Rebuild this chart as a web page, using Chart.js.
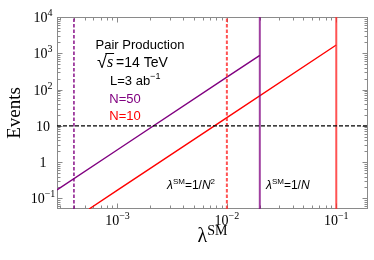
<!DOCTYPE html>
<html><head><meta charset="utf-8">
<script src="https://cdn.jsdelivr.net/npm/chart.js@4"></script>
<style>html,body{margin:0;padding:0;background:#fff}#wrap{width:374px;height:260px;position:relative}</style>
</head><body><div id="wrap"><canvas id="c"></canvas></div>
<script>
// ---- data ----
const lambdaN50 = [2.8e-4, 1e-3, 1e-2, 0.02];
const eventsN50 = [0.172, 2.19, 219, 876];
const lambdaN10 = [5.5e-4, 1e-3, 1e-2, 0.1];
const eventsN10 = [0.051, 0.169, 16.9, 1690];
const limitN50sq = 4e-4;   // 1/N^2, N=50
const limitN10sq = 0.01;   // 1/N^2, N=10
const limitN50 = 0.02;     // 1/N, N=50
const limitN10 = 0.1;      // 1/N, N=10
const eventThreshold = 10;
const xRange = [2.8e-4, 0.195];
const yRange = [0.051, 1e4];
const xTickValues = [1e-3, 1e-2, 1e-1];
const xTickLabels = [["10","\u22123"],["10","\u22122"],["10","\u22121"]];
const yTickValues = [0.1, 1, 10, 100, 1000, 10000];
const yTickLabels = [["10","\u22121"],["1",""],["10",""],["10","2"],["10","3"],["10","4"]];

const PURPLE = '#800080', RED = '#ff0000';
const pts = (xs, ys) => xs.map((v,i)=>({x:v,y:ys[i]}));
const vline = v => [{x:v,y:yRange[0]},{x:v,y:yRange[1]}];
const hline = v => [{x:xRange[0],y:v},{x:xRange[1],y:v}];

const SERIF = '"Liberation Serif", "Times New Roman", serif';
const SANS = '"Liberation Sans", Arial, sans-serif';

function supText(ctx, base, sup, x, y, baseFont, supFont, raise) {
  ctx.font = baseFont; ctx.fillText(base, x, y);
  const bw = ctx.measureText(base).width;
  let sw = 0;
  if (sup) { ctx.font = supFont; ctx.fillText(sup, x + bw, y - raise); sw = ctx.measureText(sup).width; }
  return bw + sw;
}
function supWidth(ctx, base, sup, baseFont, supFont) {
  ctx.font = baseFont; let w = ctx.measureText(base).width;
  if (sup) { ctx.font = supFont; w += ctx.measureText(sup).width; }
  return w;
}

const framePlugin = {
  id: 'frame',
  beforeDatasetsDraw(chart) {
    const {ctx, chartArea: a, scales: {x, y}} = chart;
    ctx.save();
    ctx.strokeStyle = '#8a8a8a'; ctx.lineWidth = 1;
    const L = Math.round(a.left)+0.5, R = Math.round(a.right)-0.5, T = Math.round(a.top)+0.5, B = Math.round(a.bottom)-0.5;
    ctx.strokeRect(L, T, R-L, B-T);
    ctx.beginPath();
    for (let d = -4; d <= 0; d++) for (let k = 1; k <= 9; k++) {
      const v = k*Math.pow(10,d); if (v < xRange[0] || v > xRange[1]) continue;
      const px = Math.round(x.getPixelForValue(v))+0.5, len = k===1?5:3;
      ctx.moveTo(px, B); ctx.lineTo(px, B-len); ctx.moveTo(px, T); ctx.lineTo(px, T+len);
    }
    for (let d = -2; d <= 4; d++) for (let k = 1; k <= 9; k++) {
      const v = k*Math.pow(10,d); if (v < yRange[0] || v > yRange[1]*1.0001) continue;
      const py = Math.round(y.getPixelForValue(v))+0.5, len = k===1?5:3;
      ctx.moveTo(L, py); ctx.lineTo(L+len, py); ctx.moveTo(R, py); ctx.lineTo(R-len, py);
    }
    ctx.stroke();
    ctx.restore();
  },
  afterDraw(chart) {
    const {ctx, chartArea: a, scales: {x, y}} = chart;
    ctx.save();
    ctx.fillStyle = '#000'; ctx.textBaseline = 'alphabetic'; ctx.textAlign = 'left';
    const bf = '14px ' + SERIF, sf = '10px ' + SERIF;
    xTickValues.forEach((v,i) => {
      const px = x.getPixelForValue(v);
      const [b,s] = xTickLabels[i];
      const w = supWidth(ctx, b, s, bf, sf);
      supText(ctx, b, s, px - w/2, a.bottom + 16, bf, sf, 6);
    });
    yTickValues.forEach((v,i) => {
      const py = y.getPixelForValue(v);
      const [b,s] = yTickLabels[i];
      const w = supWidth(ctx, b, s, bf, sf);
      supText(ctx, b, s, 43 - w/2, py + 5, bf, sf, 6);
    });
    // axis titles
    ctx.save();
    ctx.translate(15, (a.top+a.bottom)/2);
    ctx.rotate(-Math.PI/2);
    ctx.font = '19px ' + SERIF; ctx.textAlign = 'center'; ctx.textBaseline = 'middle';
    ctx.fillText('Events', 0, 0);
    ctx.restore();
    {
      const lf = '20px ' + SERIF, smf = '14px ' + SERIF;
      const w = supWidth(ctx, '\u03bb', 'SM', lf, smf);
      supText(ctx, '\u03bb', 'SM', (a.left+a.right)/2 - w/2, 242, lf, smf, 7);
    }
    // annotation labels
    function lamLabel(x0, y0, sq) {
      let cx = x0;
      ctx.font = 'italic 12px ' + SANS; ctx.fillText('\u03bb', cx, y0); cx += ctx.measureText('\u03bb').width;
      ctx.font = '8px ' + SANS; ctx.fillText('SM', cx, y0-5); cx += ctx.measureText('SM').width;
      ctx.font = '12px ' + SANS; ctx.fillText('=1/', cx, y0); cx += ctx.measureText('=1/').width;
      ctx.font = 'italic 12px ' + SANS; ctx.fillText('N', cx, y0); cx += ctx.measureText('N').width;
      if (sq) { ctx.font = '8px ' + SANS; ctx.fillText('2', cx, y0-5); }
    }
    lamLabel(167, 189, true);
    lamLabel(266, 189, false);
    // info block
    const f13 = '13px ' + SANS;
    ctx.font = f13; ctx.textAlign = 'center';
    ctx.fillText('Pair Production', 140, 49);
    ctx.textAlign = 'left';
    {
      let cx = 97; const by = 67;
      ctx.font = '18px ' + SANS; ctx.fillText('\u221a', cx, by+1); cx += ctx.measureText('\u221a').width - 1;
      ctx.font = 'italic 16px ' + SERIF; const sw = ctx.measureText('s').width; ctx.fillText('s', cx + 1, by);
      ctx.strokeStyle = '#000'; ctx.lineWidth = 1;
      ctx.beginPath(); ctx.moveTo(cx-0.5, by-13.5); ctx.lineTo(cx+sw+2, by-13.5); ctx.stroke();
      cx += sw + 4;
      ctx.font = '14px ' + SANS; ctx.fillText('=14 TeV', cx, by);
    }
    {
      let cx = 110; const by = 85;
      ctx.font = f13; ctx.fillText('L=3 ab', cx, by); cx += ctx.measureText('L=3 ab').width;
      ctx.font = '9px ' + SANS; ctx.fillText('\u22121', cx, by-6);
    }
    ctx.textAlign = 'center';
    ctx.font = f13;
    ctx.fillStyle = PURPLE; ctx.fillText('N=50', 125, 103);
    ctx.fillStyle = RED; ctx.fillText('N=10', 125, 120);
    ctx.restore();
  }
};

const ds = (data, color, width, dash) => ({data, borderColor: color, borderWidth: width, borderDash: dash || [], pointRadius: 0, fill: false, tension: 0});

new Chart(document.getElementById('c'), {
  type: 'scatter',
  data: { datasets: [
    ds(hline(eventThreshold), '#000', 1.2, [4,2]),
    ds(vline(limitN50sq), PURPLE, 1.4, [3.5,2]),
    ds(vline(limitN10sq), 'rgba(255,40,40,0.8)', 2, [3.5,2]),
    ds(vline(limitN50), 'rgba(128,0,128,0.75)', 2),
    ds(vline(limitN10), 'rgba(255,40,40,0.8)', 2),
    ds(pts(lambdaN50, eventsN50), PURPLE, 1.4),
    ds(pts(lambdaN10, eventsN10), RED, 1.4),
  ].map(d => Object.assign(d, {showLine: true})) },
  options: {
    responsive: true, maintainAspectRatio: false, animation: false,
    layout: { padding: { left: 57, right: 6, top: 17, bottom: 51 } },
    plugins: { legend: { display: false }, tooltip: { enabled: false } },
    scales: {
      x: { type: 'logarithmic', min: xRange[0], max: xRange[1], display: false },
      y: { type: 'logarithmic', min: yRange[0], max: yRange[1], display: false }
    }
  },
  plugins: [framePlugin]
});
</script></body></html>
